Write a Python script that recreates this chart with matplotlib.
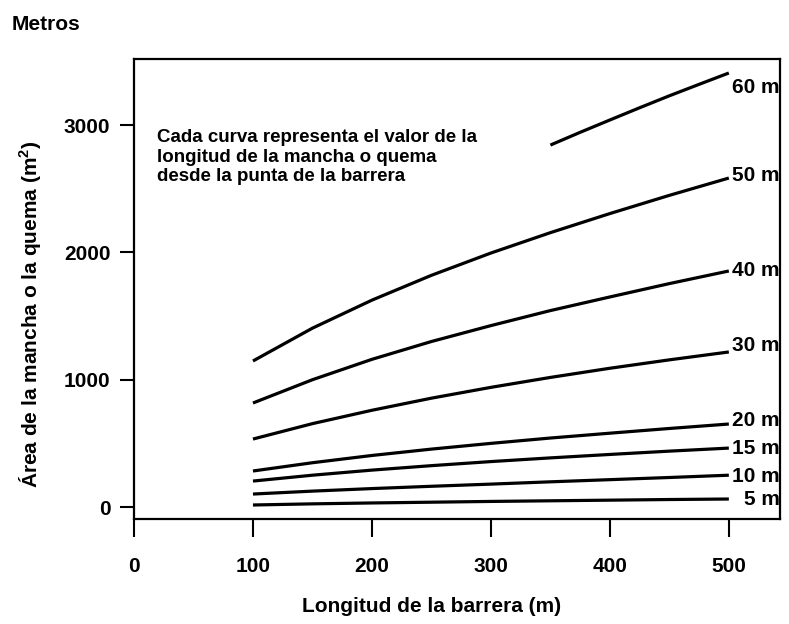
import numpy as np
import matplotlib
matplotlib.use("Agg")
import matplotlib.pyplot as plt

plt.rcParams['font.family'] = ['Liberation Sans', 'DejaVu Sans']
plt.rcParams['font.weight'] = 'bold'

# barrier length (m) and burn area (m2) for each burn length curve
x_short = [100, 150, 200, 250, 300, 350, 400, 450, 500]
area_5 = [16, 25, 32, 38, 44, 49, 54, 59, 63]
area_10 = [102, 125, 145, 163, 180, 198, 215, 232, 250]
area_15 = [204, 250, 290, 325, 357, 386, 413, 439, 463]
area_20 = [283, 348, 405, 455, 500, 542, 580, 617, 652]
area_30 = [534, 655, 760, 855, 940, 1018, 1090, 1156, 1218]
area_40 = [817, 1000, 1160, 1300, 1425, 1543, 1650, 1755, 1854]
area_50 = [1147, 1405, 1625, 1820, 1995, 2155, 2305, 2448, 2584]
x_60 = [350, 375, 400, 425, 450, 475, 500]
area_60 = [2843, 2943, 3040, 3136, 3230, 3320, 3409]

curve_labels = ['5 m', '10 m', '15 m', '20 m', '30 m', '40 m', '50 m', '60 m']
label_dy = [0, -1, 0, 4, 6, 0, 3, -14]   # px nudges for the end labels

xs = [x_short] * 7 + [x_60]
ys = [area_5, area_10, area_15, area_20, area_30, area_40, area_50, area_60]

fs = 15

fig = plt.figure(figsize=(7.89, 6.24), dpi=100)
ax = fig.add_axes([134/789, 1 - 519/624, 646/789, 460/624])

for xx, yy, lab, dy in zip(xs, ys, curve_labels, label_dy):
    ax.plot(xx, yy, color='k', lw=2.3, solid_capstyle='butt')
    ax.annotate(lab, xy=(xx[-1], yy[-1]), xytext=(51*0.72, dy*0.72),
                textcoords='offset points', ha='right', va='center',
                fontsize=fs, fontweight='bold')

ax.set_xlim(0, 543)
ax.set_ylim(-94, 3519)
ax.set_xticks([0, 100, 200, 300, 400, 500])
ax.set_yticks([0, 1000, 2000, 3000])
ax.tick_params(axis='x', direction='out', length=13, width=1.5, pad=14, labelsize=fs)
ax.tick_params(axis='y', direction='out', length=10, width=1.5, pad=7, labelsize=fs)
for s in ax.spines.values():
    s.set_linewidth(1.6)

ax.set_xlabel('Longitud de la barrera (m)', fontsize=fs, fontweight='bold')
ax.xaxis.set_label_coords(0.461, -0.17)
ax.set_ylabel('Área de la mancha o la quema (m$^\\mathregular{2}$)', fontsize=fs, fontweight='bold')
ax.yaxis.set_label_coords(-0.139, 0.446)

ax.text(0.0356, 0.848, 'Cada curva representa el valor de la\nlongitud de la mancha o quema\ndesde la punta de la barrera',
        transform=ax.transAxes, ha='left', va='top', fontsize=13.5, fontweight='bold', linespacing=1.2)

fig.text(12/789, 1 - 25/624, 'Metros', ha='left', va='center', fontsize=fs, fontweight='bold')

fig.savefig('out.png', dpi=100)
